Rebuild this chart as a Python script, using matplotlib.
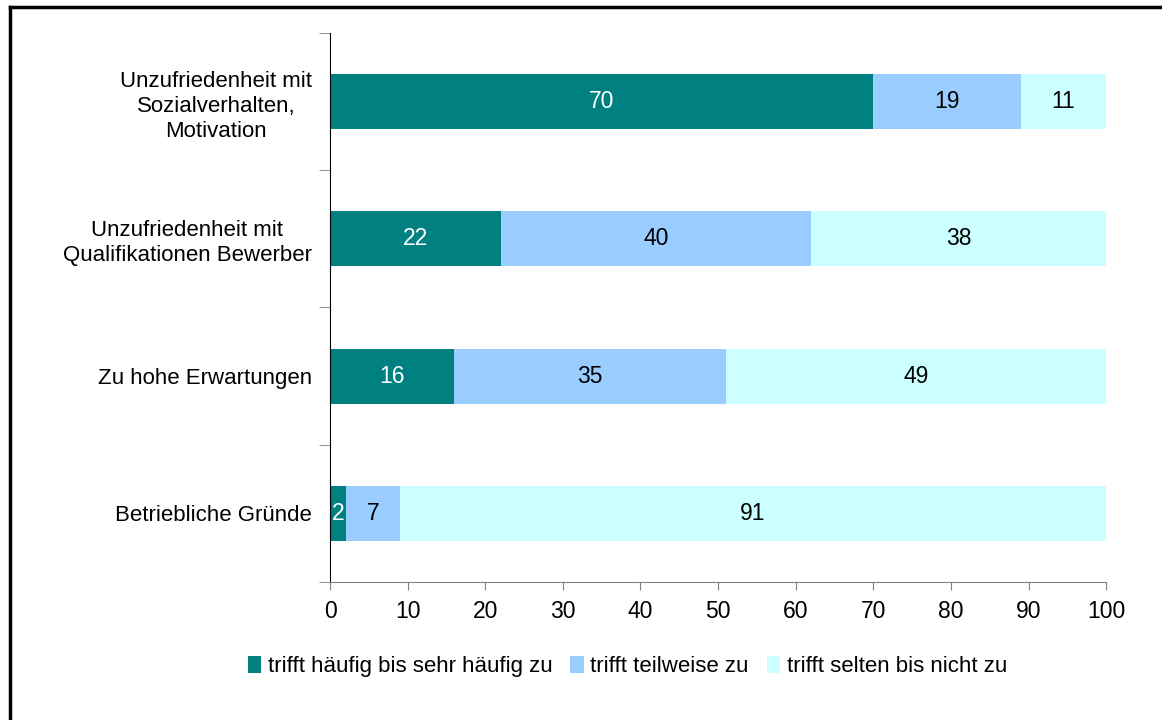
import matplotlib
matplotlib.use('Agg')
import matplotlib.pyplot as plt
from matplotlib.lines import Line2D
from matplotlib.patches import Patch

# data (top to bottom)
categories = [
    'Unzufriedenheit mit\nSozialverhalten,\nMotivation',
    'Unzufriedenheit mit\nQualifikationen Bewerber',
    'Zu hohe Erwartungen',
    'Betriebliche Gründe',
]
haeufig = [70, 22, 16, 2]
teilweise = [19, 40, 35, 7]
selten = [11, 38, 49, 91]
series_names = ['trifft häufig bis sehr häufig zu', 'trifft teilweise zu', 'trifft selten bis nicht zu']
colors = ['#008080', '#99CCFF', '#CCFFFF']
text_colors = ['white', 'black', 'black']

plt.rcParams['font.family'] = ['Liberation Sans', 'DejaVu Sans']
FS = 16.5

fig = plt.figure(figsize=(11.62, 7.2), dpi=100)
ax = fig.add_axes([0.284, 0.1917, 0.668, 0.7625])

y = list(range(len(categories)))
left = [0] * len(categories)
for vals, col, tcol, name in zip([haeufig, teilweise, selten], colors, text_colors, series_names):
    bars = ax.barh(y, vals, left=left, height=0.4, color=col, label=name)
    for b, v in zip(bars, vals):
        ax.text(b.get_x() + b.get_width() / 2, b.get_y() + b.get_height() / 2, str(v),
                ha='center', va='center', color=tcol, fontsize=FS)
    left = [l + v for l, v in zip(left, vals)]

ax.set_xlim(0, 100)
ax.set_ylim(len(categories) - 0.5, -0.5)
ax.set_xticks(range(0, 101, 10))
ax.tick_params(axis='x', labelsize=FS, length=6, color='#808080', pad=7)

ax.set_yticks(y)
ax.set_yticklabels(categories, fontsize=16, ha='right', multialignment='center', linespacing=1.25)
ax.tick_params(axis='y', which='major', length=0, pad=13)
ax.set_yticks([i - 0.5 for i in range(len(categories) + 1)], minor=True)
ax.tick_params(axis='y', which='minor', length=8, color='#808080')

for s in ['top', 'right']:
    ax.spines[s].set_visible(False)
ax.spines['left'].set_color('black')
ax.spines['bottom'].set_color('#808080')

handles = [Patch(facecolor=c, edgecolor='none') for c in colors]
fig.legend(handles, series_names, loc='center', bbox_to_anchor=(0.54, 0.074), ncol=3,
           frameon=False, fontsize=16, handlelength=0.6, handleheight=0.75,
           handletextpad=0.3, columnspacing=0.8)

# frame lines (left and top) like the original cropped screenshot
fig.add_artist(Line2D([0.0085, 0.0085], [0, 0.99], transform=fig.transFigure, color='black', lw=2.5))
fig.add_artist(Line2D([0.0085, 1.0], [0.99, 0.99], transform=fig.transFigure, color='black', lw=2.5))

fig.savefig('out.png', dpi=100)
